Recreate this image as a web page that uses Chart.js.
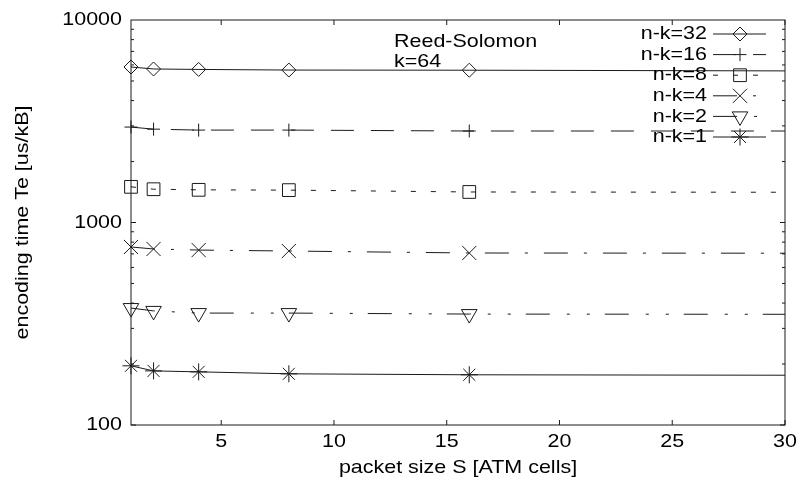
<!DOCTYPE html>
<html>
<head>
<meta charset="utf-8">
<script src="https://cdn.jsdelivr.net/npm/chart.js@4/dist/chart.umd.min.js"></script>
<style>
  body { margin: 0; background: #fff; }
  canvas { display: block; }
</style>
</head>
<body>
<canvas id="encChart" width="799" height="495"></canvas>
<script>
// packet sizes S [ATM cells]
var sizes = [1, 2, 4, 8, 16, 32];

// encoding time Te [us/kB] for each n-k
var nk32 = [5860, 5730, 5700, 5660, 5650, 5600];
var nk16 = [2960, 2890, 2860, 2860, 2830, 2830];
var nk8 = [1500, 1460, 1450, 1445, 1415, 1410];
var nk4 = [757, 740, 731, 723, 707, 705];
var nk2 = [378, 366, 357, 357, 353, 352];
var nk1 = [196, 185, 183, 179, 177, 176];

var xTicks = [5, 10, 15, 20, 25, 30];
var yTicks = [100, 1000, 10000];

var FONT = '"Liberation Sans", Arial, sans-serif';
var FSIZE = 19;
var STRETCH = 1.13;
var ink = '#1a1a1a';

var canvas = document.getElementById('encChart');
var ctx0 = canvas.getContext('2d');

// the reference text is drawn a bit wide, so stretch every text run sideways
var origFill = ctx0.fillText.bind(ctx0);
var origMeasure = ctx0.measureText.bind(ctx0);
ctx0.fillText = function (t, x, y) {
  ctx0.save();
  ctx0.translate(x, y);
  ctx0.scale(STRETCH, 1);
  origFill(t, 0, 0);
  ctx0.restore();
};
ctx0.measureText = function (t) {
  var m = origMeasure(t);
  return {
    width: m.width * STRETCH,
    actualBoundingBoxAscent: m.actualBoundingBoxAscent,
    actualBoundingBoxDescent: m.actualBoundingBoxDescent,
    actualBoundingBoxLeft: m.actualBoundingBoxLeft * STRETCH,
    actualBoundingBoxRight: m.actualBoundingBoxRight * STRETCH
  };
};

function series(label, values, dash, style, radius, rotation) {
  return {
    label: label,
    data: sizes.map(function (s, i) { return { x: s, y: values[i] }; }),
    borderColor: ink,
    borderWidth: 1,
    borderDash: dash,
    pointStyle: style,
    pointRadius: radius,
    pointRotation: rotation || 0,
    pointBorderColor: ink,
    pointBorderWidth: 1,
    pointBackgroundColor: 'rgba(0,0,0,0)',
    pointHoverRadius: radius,
    tension: 0,
    clip: { left: 14, top: 14, right: 0, bottom: 14 }
  };
}

var datasets = [
  series('n-k=32', nk32, [], 'rectRot', 7),
  series('n-k=16', nk16, [23, 17], 'cross', 6.5),
  series('n-k=8', nk8, [5, 15], 'rect', 9),
  series('n-k=4', nk4, [24, 16, 3, 16], 'crossRot', 10),
  series('n-k=2', nk2, [24, 17, 3, 17, 3, 15], 'triangle', 9, 180),
  series('n-k=1', nk1, [], 'star', 8.5)
];

// border box with inward ticks on all four sides
var frame = {
  id: 'frame',
  afterDraw: function (chart) {
    var ctx = chart.ctx, a = chart.chartArea;
    var x = chart.scales.x, y = chart.scales.y;
    ctx.save();
    ctx.strokeStyle = ink;
    ctx.lineWidth = 1;
    ctx.setLineDash([]);
    ctx.strokeRect(a.left, a.top, a.right - a.left, a.bottom - a.top);
    ctx.beginPath();
    xTicks.forEach(function (v) {
      var px = x.getPixelForValue(v);
      ctx.moveTo(px, a.bottom); ctx.lineTo(px, a.bottom - 5);
      ctx.moveTo(px, a.top); ctx.lineTo(px, a.top + 5);
    });
    for (var d = 100; d < 10000; d *= 10) {
      for (var m = 1; m <= 9; m++) {
        var py = y.getPixelForValue(m * d);
        var len = m === 1 ? 5 : 3;
        ctx.moveTo(a.left, py); ctx.lineTo(a.left + len, py);
        ctx.moveTo(a.right, py); ctx.lineTo(a.right - len, py);
      }
    }
    ctx.stroke();
    ctx.restore();
  }
};

// gnuplot style key plus the note
var key = {
  id: 'key',
  afterDraw: function (chart) {
    var ctx = chart.ctx;
    ctx.save();
    ctx.font = FSIZE + 'px ' + FONT;
    ctx.fillStyle = '#000';
    ctx.textBaseline = 'middle';
    ctx.textAlign = 'left';
    ctx.fillText('Reed-Solomon', 394, 42);
    ctx.fillText('k=64', 394, 62);
    chart.data.datasets.forEach(function (ds, i) {
      var yy = 34 + i * 20.6;
      ctx.fillStyle = '#000';
      ctx.textAlign = 'right';
      ctx.fillText(ds.label, 707, yy);
      ctx.strokeStyle = ink;
      ctx.lineWidth = 1;
      ctx.setLineDash(ds.borderDash);
      ctx.beginPath();
      ctx.moveTo(713, yy);
      ctx.lineTo(766, yy);
      ctx.stroke();
      ctx.setLineDash([]);
      ctx.fillStyle = 'rgba(0,0,0,0)';
      Chart.helpers.drawPoint(ctx, {
        pointStyle: ds.pointStyle,
        radius: ds.pointRadius,
        rotation: ds.pointRotation,
        borderWidth: 1
      }, 740, yy);
    });
    ctx.restore();
  }
};

new Chart(canvas, {
  type: 'line',
  data: { datasets: datasets },
  options: {
    responsive: false,
    animation: false,
    devicePixelRatio: 1,
    layout: { padding: { top: 20, right: 14, left: 0, bottom: 0 } },
    plugins: {
      legend: { display: false },
      tooltip: { enabled: false }
    },
    scales: {
      x: {
        type: 'linear',
        min: 1,
        max: 30,
        grid: { display: false, drawTicks: false },
        border: { display: false },
        afterBuildTicks: function (s) { s.ticks = xTicks.map(function (v) { return { value: v }; }); },
        afterFit: function (s) { s.height = 70; s.paddingRight = 0; s.paddingLeft = 0; },
        ticks: { color: '#000', font: { family: FONT, size: FSIZE }, padding: 5, maxRotation: 0 },
        title: {
          display: true,
          text: 'packet size S [ATM cells]',
          color: '#000',
          font: { family: FONT, size: FSIZE },
          padding: { top: 0, bottom: 16 }
        }
      },
      y: {
        type: 'logarithmic',
        min: 100,
        max: 10000,
        grid: { display: false, drawTicks: false },
        border: { display: false },
        afterBuildTicks: function (s) { s.ticks = yTicks.map(function (v) { return { value: v }; }); },
        afterFit: function (s) { s.width = 131; s.paddingTop = 0; s.paddingBottom = 0; },
        ticks: {
          color: '#000',
          font: { family: FONT, size: FSIZE },
          padding: 9,
          callback: function (v) { return String(v); }
        },
        title: {
          display: true,
          text: 'encoding time Te [us/kB]',
          color: '#000',
          font: { family: FONT, size: FSIZE },
          padding: { top: 11, bottom: 0 }
        }
      }
    }
  },
  plugins: [frame, key]
});
</script>
</body>
</html>
